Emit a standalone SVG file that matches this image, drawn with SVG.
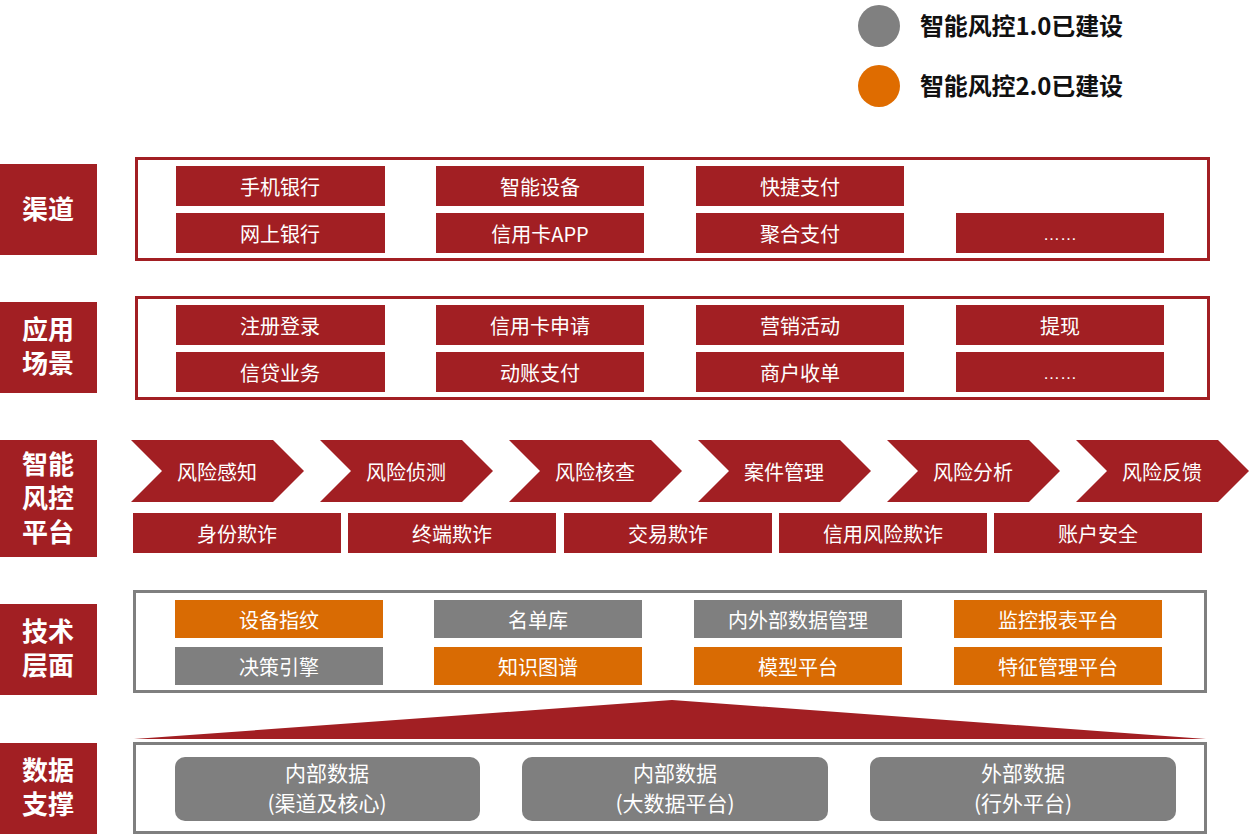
<svg xmlns="http://www.w3.org/2000/svg" width="1249" height="836" viewBox="0 0 1249 836">
<style>
  .red{fill:#A21F23}
  .gray{fill:#7F7F7F}
  .orange{fill:#D96B03}
  .frameR{fill:#fff;stroke:#A21F23;stroke-width:3}
  .frameG{fill:#fff;stroke:#7F7F7F;stroke-width:3}
  .t{font-family:"Noto Sans CJK SC","Microsoft YaHei",sans-serif;font-size:20px;fill:#fff;text-anchor:middle;dominant-baseline:central}
  .td{font-family:"Noto Sans CJK SC",sans-serif;font-size:21px;fill:#fff;text-anchor:middle}
  .lbl{font-family:"Noto Sans CJK SC",sans-serif;font-size:26px;font-weight:bold;fill:#fff;text-anchor:middle}
  .dots{font-family:"Liberation Sans",sans-serif;font-size:17px;fill:#fff;text-anchor:middle}
  .leg{font-family:"Noto Sans CJK SC",sans-serif;font-size:24px;font-weight:bold;fill:#111}
</style>
<rect width="1249" height="836" fill="#fff"/>

<g id="legend">
  <circle cx="879" cy="26" r="21" fill="#808080"/>
  <text class="leg" x="920" y="35" textLength="203" lengthAdjust="spacing">智能风控1.0已建设</text>
  <circle cx="879" cy="86" r="21" fill="#DF6C00"/>
  <text class="leg" x="920" y="95" textLength="203" lengthAdjust="spacing">智能风控2.0已建设</text>
</g>

<g id="layer-channel">
  <rect class="red" x="0" y="164" width="97" height="91"/>
  <text class="lbl" x="48" y="219">渠道</text>
  <rect class="frameR" x="136.5" y="158.5" width="1072" height="101"/>
  <g id="n-mobile"><rect class="red" x="176" y="166" width="209" height="40"/><text class="t" x="280" y="186">手机银行</text></g>
  <g id="n-smartdev"><rect class="red" x="436" y="166" width="208" height="40"/><text class="t" x="540" y="186">智能设备</text></g>
  <g id="n-quickpay"><rect class="red" x="696" y="166" width="208" height="40"/><text class="t" x="800" y="186">快捷支付</text></g>
  <g id="n-netbank"><rect class="red" x="176" y="213" width="209" height="40"/><text class="t" x="280" y="233">网上银行</text></g>
  <g id="n-ccapp"><rect class="red" x="436" y="213" width="208" height="40"/><text class="t" x="540" y="233">信用卡APP</text></g>
  <g id="n-aggpay"><rect class="red" x="696" y="213" width="208" height="40"/><text class="t" x="800" y="233">聚合支付</text></g>
  <g id="n-ch-more"><rect class="red" x="956" y="213" width="208" height="40"/><text class="dots" x="1060" y="240">……</text></g>
</g>

<g id="layer-scene">
  <rect class="red" x="0" y="302" width="97" height="91"/>
  <text class="lbl" x="48" y="339">应用<tspan x="48" dy="34">场景</tspan></text>
  <rect class="frameR" x="136.5" y="297.5" width="1072" height="101"/>
  <g id="n-register"><rect class="red" x="176" y="305" width="209" height="40"/><text class="t" x="280" y="325">注册登录</text></g>
  <g id="n-ccapply"><rect class="red" x="436" y="305" width="208" height="40"/><text class="t" x="540" y="325">信用卡申请</text></g>
  <g id="n-marketing"><rect class="red" x="696" y="305" width="208" height="40"/><text class="t" x="800" y="325">营销活动</text></g>
  <g id="n-withdraw"><rect class="red" x="956" y="305" width="208" height="40"/><text class="t" x="1060" y="325">提现</text></g>
  <g id="n-loan"><rect class="red" x="176" y="352" width="209" height="40"/><text class="t" x="280" y="372">信贷业务</text></g>
  <g id="n-dongzhang"><rect class="red" x="436" y="352" width="208" height="40"/><text class="t" x="540" y="372">动账支付</text></g>
  <g id="n-merchant"><rect class="red" x="696" y="352" width="208" height="40"/><text class="t" x="800" y="372">商户收单</text></g>
  <g id="n-sc-more"><rect class="red" x="956" y="352" width="208" height="40"/><text class="dots" x="1060" y="379">……</text></g>
</g>

<g id="layer-platform">
  <rect class="red" x="0" y="440" width="97" height="117"/>
  <text class="lbl" x="48" y="474">智能<tspan x="48" dy="34">风控</tspan><tspan x="48" dy="34">平台</tspan></text>
  <g id="n-perceive"><path class="red" d="M131 440H273L304 471L273 502H131L162 471Z"/><text class="t" x="217" y="471">风险感知</text></g>
  <g id="n-detect"><path class="red" d="M320 440H462L493 471L462 502H320L351 471Z"/><text class="t" x="406" y="471">风险侦测</text></g>
  <g id="n-verify"><path class="red" d="M509 440H651L682 471L651 502H509L540 471Z"/><text class="t" x="595" y="471">风险核查</text></g>
  <g id="n-case"><path class="red" d="M698 440H840L871 471L840 502H698L729 471Z"/><text class="t" x="784" y="471">案件管理</text></g>
  <g id="n-analyze"><path class="red" d="M887 440H1029L1060 471L1029 502H887L918 471Z"/><text class="t" x="973" y="471">风险分析</text></g>
  <g id="n-feedback"><path class="red" d="M1076 440H1218L1249 471L1218 502H1076L1107 471Z"/><text class="t" x="1162" y="471">风险反馈</text></g>
  <g id="n-identity"><rect class="red" x="133" y="513" width="208" height="40"/><text class="t" x="237" y="533">身份欺诈</text></g>
  <g id="n-terminal"><rect class="red" x="348" y="513" width="208" height="40"/><text class="t" x="452" y="533">终端欺诈</text></g>
  <g id="n-trade"><rect class="red" x="564" y="513" width="208" height="40"/><text class="t" x="668" y="533">交易欺诈</text></g>
  <g id="n-credit"><rect class="red" x="779" y="513" width="208" height="40"/><text class="t" x="883" y="533">信用风险欺诈</text></g>
  <g id="n-account"><rect class="red" x="994" y="513" width="208" height="40"/><text class="t" x="1098" y="533">账户安全</text></g>
</g>

<g id="layer-tech">
  <rect class="red" x="0" y="604" width="97" height="91"/>
  <text class="lbl" x="48" y="641">技术<tspan x="48" dy="34">层面</tspan></text>
  <rect class="frameG" x="134.5" y="591.5" width="1071" height="100"/>
  <g id="n-devfp"><rect class="orange" x="175" y="600" width="208" height="38"/><text class="t" x="279" y="619">设备指纹</text></g>
  <g id="n-list"><rect class="gray" x="434" y="600" width="208" height="38"/><text class="t" x="538" y="619">名单库</text></g>
  <g id="n-datamgmt"><rect class="gray" x="694" y="600" width="208" height="38"/><text class="t" x="798" y="619">内外部数据管理</text></g>
  <g id="n-monitor"><rect class="orange" x="954" y="600" width="208" height="38"/><text class="t" x="1058" y="619">监控报表平台</text></g>
  <g id="n-engine"><rect class="gray" x="175" y="647" width="208" height="38"/><text class="t" x="279" y="666">决策引擎</text></g>
  <g id="n-kg"><rect class="orange" x="434" y="647" width="208" height="38"/><text class="t" x="538" y="666">知识图谱</text></g>
  <g id="n-model"><rect class="orange" x="694" y="647" width="208" height="38"/><text class="t" x="798" y="666">模型平台</text></g>
  <g id="n-feature"><rect class="orange" x="954" y="647" width="208" height="38"/><text class="t" x="1058" y="666">特征管理平台</text></g>
</g>

<g id="connectors">
  <path class="red" d="M134 739L672 700L1206 739Z"/>
</g>

<g id="layer-data">
  <rect class="red" x="0" y="743" width="97" height="91"/>
  <text class="lbl" x="48" y="780">数据<tspan x="48" dy="34">支撑</tspan></text>
  <rect class="frameG" x="134.5" y="743.5" width="1071" height="89"/>
  <g id="n-internal1"><rect class="gray" x="175" y="757" width="305" height="64" rx="10"/><text class="td" x="327" y="781">内部数据</text><text class="td" x="327" y="811">(渠道及核心)</text></g>
  <g id="n-internal2"><rect class="gray" x="522" y="757" width="306" height="64" rx="10"/><text class="td" x="675" y="781">内部数据</text><text class="td" x="675" y="811">(大数据平台)</text></g>
  <g id="n-external"><rect class="gray" x="870" y="757" width="306" height="64" rx="10"/><text class="td" x="1023" y="781">外部数据</text><text class="td" x="1023" y="811">(行外平台)</text></g>
</g>
</svg>
